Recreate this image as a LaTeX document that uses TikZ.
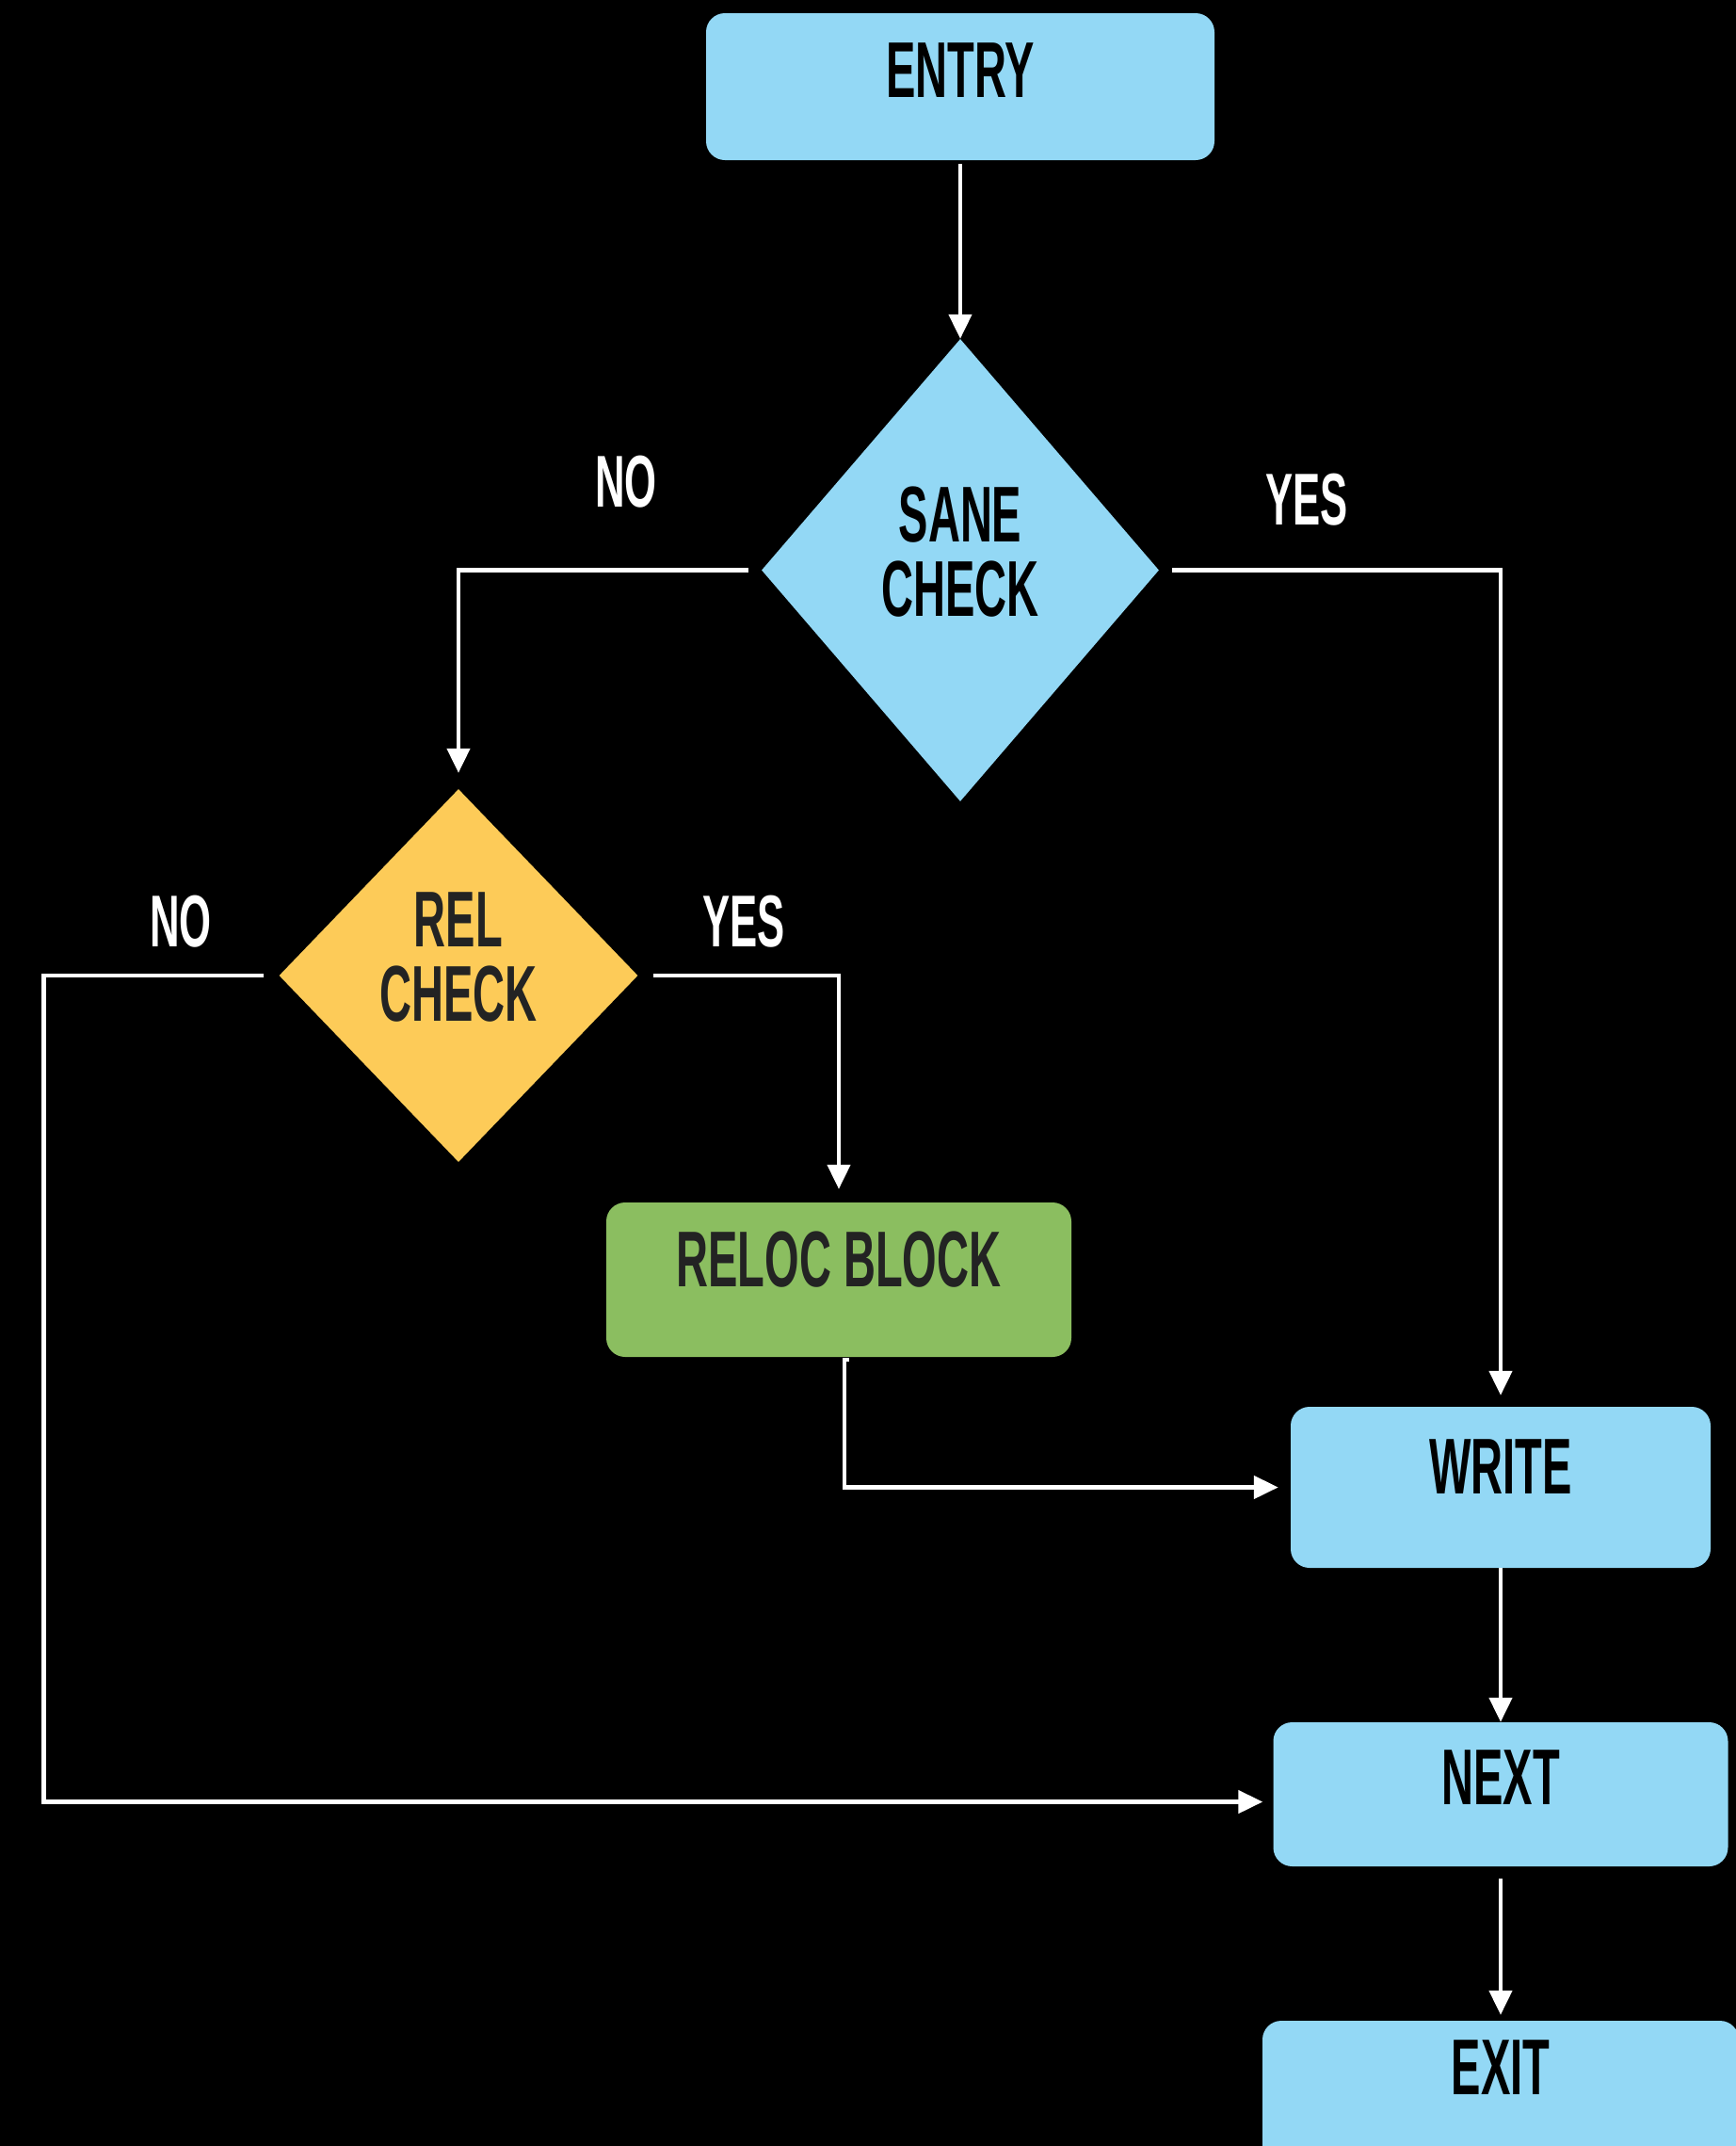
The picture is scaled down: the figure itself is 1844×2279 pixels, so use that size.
\documentclass[tikz,border=0pt]{standalone}
\usepackage{fontspec}
\newfontfamily\dinfont{Liberation Sans}[FakeStretch=0.56]
\usetikzlibrary{shapes.geometric,arrows.meta}
\definecolor{skyb}{HTML}{93D8F5}
\definecolor{sunny}{HTML}{FDCB58}
\definecolor{leaf}{HTML}{8BBE60}
\definecolor{ink}{HTML}{232323}
\tikzset{
  boxnode/.style={rectangle, rounded corners=20pt, inner sep=0pt},
  decnode/.style={diamond, inner sep=0pt},
  txt/.style={inner sep=0pt, align=center, font=\dinfont\bfseries\fontsize{84}{79}\selectfont},
  lab/.style={inner sep=0pt, text=white, font=\dinfont\bfseries\fontsize{78}{80}\selectfont},
  conn/.style={draw=white, line width=4.5pt, -{Triangle[width=24pt,length=26pt]}},
}
\begin{document}
\begin{tikzpicture}[x=1pt,y=-1pt]
\fill[black] (0,0) rectangle (1844,2279);
\useasboundingbox (0,0) rectangle (1844,2279);
\clip (0,0) rectangle (1844,2279);

% shapes
\node[boxnode, fill=skyb, minimum width=540pt, minimum height=156pt] (entry) at (1020,92) {};
\node[decnode, fill=skyb, minimum width=422pt, minimum height=491pt] (sane) at (1020,605.5) {};
\node[decnode, fill=sunny, minimum width=381pt, minimum height=396pt] (rel) at (487,1036) {};
\node[boxnode, fill=leaf, minimum width=494pt, minimum height=164pt] (reloc) at (891,1359) {};
\node[boxnode, fill=skyb, minimum width=446pt, minimum height=171pt] (write) at (1594,1579.5) {};
\node[boxnode, fill=skyb, minimum width=483pt, minimum height=153pt] (next) at (1594,1905.5) {};
\node[boxnode, fill=skyb, minimum width=506pt, minimum height=154pt] (exit) at (1594,2223) {};

% texts
\node[txt, text=black] (entryt) at (1020,75) {ENTRY};
\node[txt, text=black] (sanet) at (1020,586) {SANE\\CHECK};
\node[txt, text=ink] (relt) at (487,1016) {REL\\CHECK};
\node[txt, text=ink] (reloct) at (891,1338) {RELOC BLOCK};
\node[txt, text=black] (writet) at (1594,1558) {WRITE};
\node[txt, text=black] (nextt) at (1594,1888) {NEXT};
\node[txt, text=black] (exitt) at (1594,2196) {EXIT};

% branch labels
\node[lab] (saneno) at (665,512) {NO};
\node[lab] (saneyes) at (1388,531) {YES};
\node[lab] (relno) at (192,979) {NO};
\node[lab] (relyes) at (790,979) {YES};

% connectors
\coordinate (lcorner) at (46.5,1400);
\draw[conn] ([yshift=-4pt]entry.south) -- (sane.north);
\draw[conn] ([xshift=-14pt]sane.west) -| ([yshift=17pt]rel.north);
\draw[conn] ([xshift=14pt]sane.east) -| ([yshift=12pt]write.north);
\draw[conn] ([xshift=-16pt]rel.west) -| (lcorner) |- ([xshift=-11pt,yshift=-8pt]next.west);
\draw[conn] ([xshift=16pt]rel.east) -| ([yshift=14pt]reloc.north);
\draw[conn] ([xshift=11pt,yshift=-3pt]reloc.south) -- ++(-5,0) |- ([xshift=-13pt]write.west);
\draw[conn] (write.south) -- (next.north);
\draw[conn] ([yshift=-13pt]next.south) -- ([yshift=6pt]exit.north);
\end{tikzpicture}
\end{document}
